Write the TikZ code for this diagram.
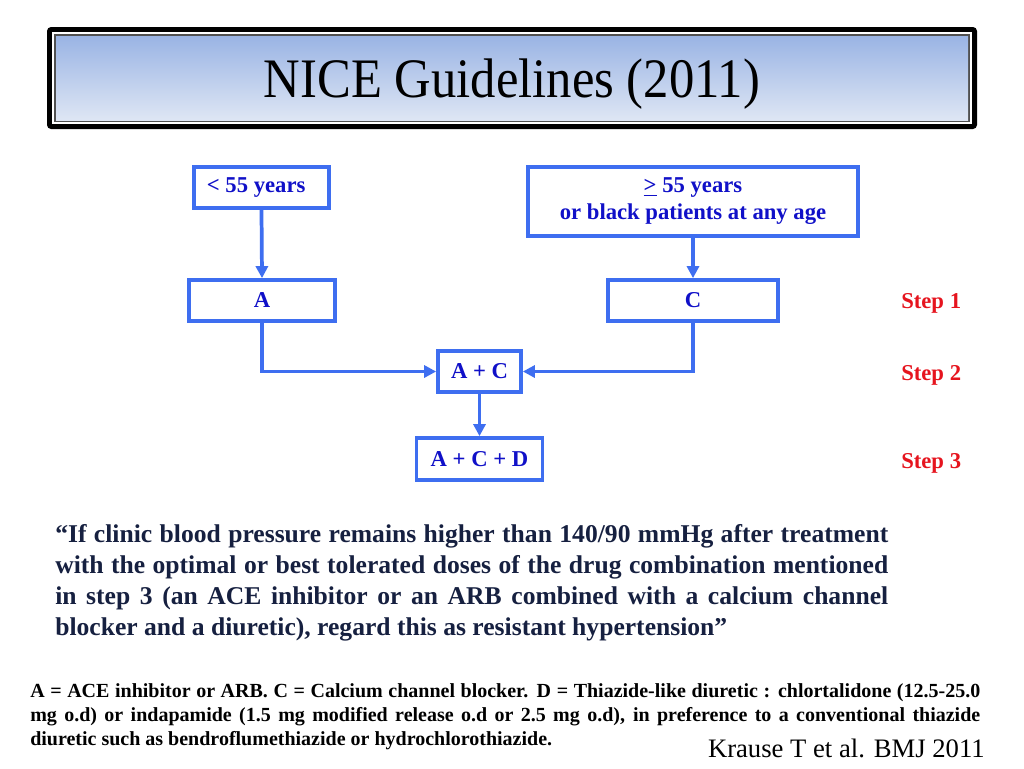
\documentclass[tikz,border=0pt]{standalone}
\usepackage{fontspec}
\setmainfont{Liberation Serif}
\usetikzlibrary{arrows.meta,calc}
\definecolor{boxblue}{RGB}{62,110,240}
\definecolor{boxtext}{RGB}{16,16,200}
\definecolor{stepred}{RGB}{230,20,30}
\definecolor{quotecol}{RGB}{22,32,64}
\definecolor{titletop}{RGB}{154,180,228}
\definecolor{titlebot}{RGB}{222,230,244}
\definecolor{framegray}{RGB}{80,80,80}
\begin{document}
\begin{tikzpicture}[x=0.75pt,y=-0.75pt,
  flowbox/.style={draw=boxblue, line width=2.8pt, fill=white, inner sep=0pt,
    font=\fontsize{17}{20.25}\selectfont\bfseries, text=boxtext, align=center},
  conn/.style={draw=boxblue, line width=2.8pt, -{Triangle[length=9pt,width=9pt]}},
  steplabel/.style={text=stepred, font=\fontsize{17}{19}\selectfont\bfseries,
    anchor=base west, inner sep=0pt},
  quoteline/.style={anchor=base west, inner sep=0pt, text=quotecol,
    font=\fontsize{19.2}{23.25}\selectfont\bfseries},
  footline/.style={anchor=base west, inner sep=0pt,
    font=\fontsize{15}{18}\selectfont\bfseries}]
\useasboundingbox (0,0) rectangle (1024,768);
\fill[white] (0,0) rectangle (1024,768);
% title frame
\fill[black, rounded corners=3pt] (47,27) rectangle (977,129);
\fill[white] (52,32) rectangle (972,124);
\fill[framegray] (54,34) rectangle (970,122);
\shade[top color=titletop, bottom color=titlebot] (56,36) rectangle (968,120);
\node[font=\fontsize{38}{44}\selectfont, anchor=base, inner sep=0pt] (title) at (512,97) {\scalebox{1}[1.1]{NICE Guidelines (2011)}};
% flow boxes
\node[flowbox, minimum width=101.25pt, minimum height=30.75pt] (young) at (261.5,187.5) {\hspace*{-8pt}< 55 years};
\node[flowbox, minimum width=247.5pt, minimum height=51.75pt] (old) at (693,201.5) {\underline{>} 55 years\\or black patients at any age};
\node[flowbox, minimum width=109.5pt, minimum height=30.75pt] (A) at (262,300.5) {A};
\node[flowbox, minimum width=127.5pt, minimum height=30.75pt] (C) at (693,300.5) {C};
\node[flowbox, minimum width=62.25pt, minimum height=30.75pt] (AC) at (479.5,371.5) {A + C};
\node[flowbox, minimum width=94.5pt, minimum height=31.5pt] (ACD) at (479.5,459) {A + C + D};
% connectors
\draw[conn] (young.south) -- (A.north);
\draw[conn] (old.south) -- (C.north);
\draw[conn] (A.south) -- (A.south |- AC.west) -- (AC.west);
\draw[conn] (C.south) -- (C.south |- AC.east) -- (AC.east);
\draw[conn] (AC.south) -- (ACD.north);
% steps
\node[steplabel] (s1) at (901,308) {Step 1};
\node[steplabel] (s2) at (901,380) {Step 2};
\node[steplabel] (s3) at (901,468) {Step 3};
% quote
\node[quoteline] (q1) at (55,542) {\makebox[624.75pt][s]{“If clinic blood pressure remains higher than 140/90 mmHg after treatment}};
\node[quoteline] (q2) at (55,573) {\makebox[624.75pt][s]{with the optimal or best tolerated doses of the drug combination mentioned}};
\node[quoteline] (q3) at (55,604) {\makebox[624.75pt][s]{in step 3 (an ACE inhibitor or an ARB combined with a calcium channel}};
\node[quoteline] (q4) at (55,635) {blocker and a diuretic), regard this as resistant hypertension”};
% footnote
\node[footline] (f1) at (30,697) {\makebox[712.5pt][s]{A = ACE inhibitor or ARB. C = Calcium channel blocker. D = Thiazide-like diuretic : chlortalidone (12.5-25.0}};
\node[footline] (f2) at (30,721) {\makebox[712.5pt][s]{mg o.d) or indapamide (1.5 mg modified release o.d or 2.5 mg o.d), in preference to a conventional thiazide}};
\node[footline] (f3) at (30,745) {diuretic such as bendroflumethiazide or hydrochlorothiazide.};
\node[anchor=base east, inner sep=0pt, font=\fontsize{20}{24}\selectfont] (ref) at (985,757) {Krause T et al. BMJ 2011};
\end{tikzpicture}
\end{document}
